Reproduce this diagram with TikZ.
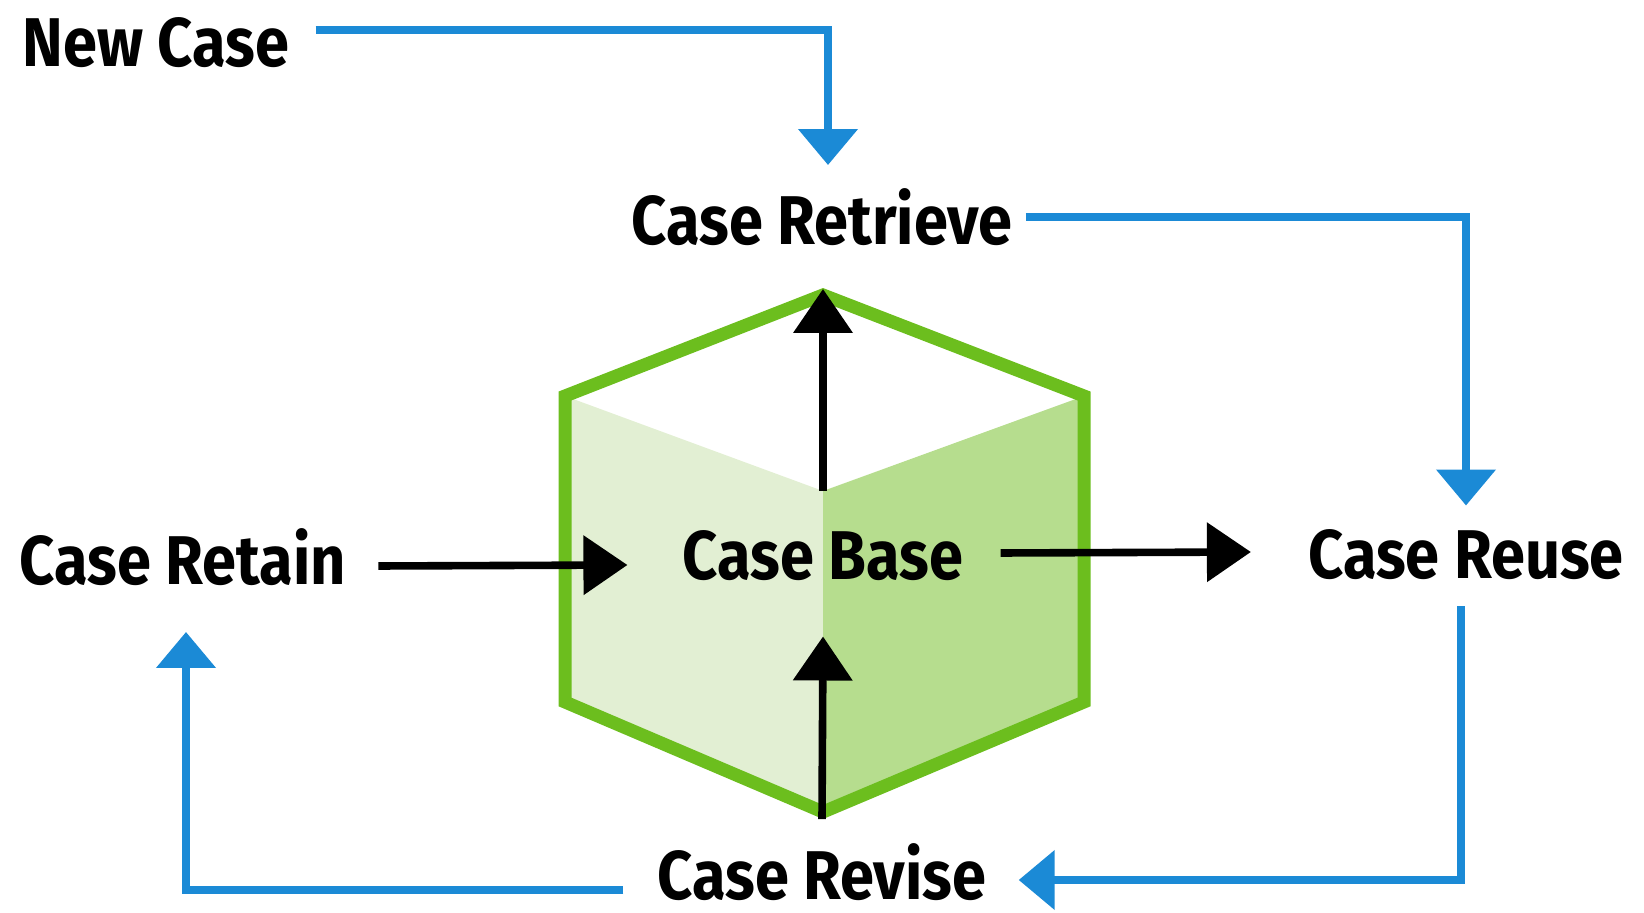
\documentclass[tikz,border=0pt]{standalone}
\usepackage{fontspec}
\setmainfont{Fira Sans}[FakeStretch=0.89]
\usetikzlibrary{arrows.meta}
\definecolor{flowblue}{RGB}{27,138,214}
\definecolor{cubegreen}{RGB}{108,190,30}
\definecolor{faceleft}{RGB}{226,239,211}
\definecolor{faceright}{RGB}{182,221,142}

\begin{document}
\begin{tikzpicture}[x=0.5pt,y=-0.5pt,
    lbl/.style={inner sep=0pt,font=\fontsize{34.5}{40}\selectfont\bfseries},
    flow/.style={flowblue,line width=4pt,-{Triangle[length=18pt,width=29pt]}},
    push/.style={black,line width=3.8pt,-{Triangle[length=22pt,width=29pt]}}]
  \useasboundingbox (0,0) rectangle (1644,913);

  % the cube
  \coordinate (top) at (823,295);
  \coordinate (ul)  at (565,396);
  \coordinate (ll)  at (565,702);
  \coordinate (bot) at (823,812);
  \coordinate (lr)  at (1084,702);
  \coordinate (ur)  at (1084,396);
  \coordinate (mid) at (823,491);
  \fill[faceleft]  (ul) -- (mid) -- (bot) -- (ll) -- cycle;
  \fill[faceright] (mid) -- (ur) -- (lr) -- (bot) -- cycle;
  \draw[cubegreen,line width=6.5pt] (top) -- (ur) -- (lr) -- (bot) -- (ll) -- (ul) -- cycle;

  \node[lbl] (newcase)  at (156,43)  {New Case};
  \node[lbl] (retrieve) at (822,217) {Case Retrieve};
  \node[lbl] (base)     at (823,556) {Case Base};
  \node[lbl] (retain)   at (183,557) {Case Retain};
  \node[lbl] (reuse)    at (1466,555) {Case Reuse};
  \node[lbl] (revise)   at (822,872) {Case Revise};

  % the cycle
  \draw[flow] ([xshift=13pt,yshift=6.5pt]newcase.east) -| ([xshift=3pt,yshift=11.5pt]retrieve.north);
  \draw[flow] ([xshift=6.5pt]retrieve.east) -| ([yshift=12pt]reuse.north);
  \draw[flow] ([xshift=-2.5pt,yshift=-13pt]reuse.south) |- ([xshift=16pt,yshift=-4pt]revise.east);
  \draw[flow] ([xshift=-17pt,yshift=-9pt]revise.west) -| ([xshift=1.5pt,yshift=-23pt]retain.south);

  % into and out of the base
  \draw[push] (mid) -- ([yshift=3pt]top);
  \draw[push] ([yshift=12pt]revise.north) -- ([yshift=-27.5pt]base.south);
  \draw[push] ([xshift=16pt,yshift=-4.5pt]retain.east) -- ([xshift=-27.5pt,yshift=-4.5pt]base.west);
  \draw[push] ([xshift=18.5pt,yshift=1.5pt]base.east) -- ([xshift=-28.5pt,yshift=1.5pt]reuse.west);
\end{tikzpicture}
\end{document}
